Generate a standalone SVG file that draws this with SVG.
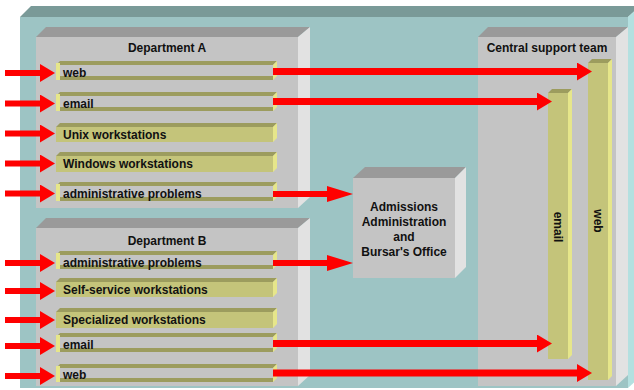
<svg xmlns="http://www.w3.org/2000/svg" width="634" height="390" viewBox="0 0 634 390">
<style>
.t{font-family:"Liberation Sans",Arial,sans-serif;font-weight:bold;font-size:12px;fill:#111}
.c{text-anchor:middle}
.bf{fill:#c4c47a}
.bt{fill:#9c9c5e}
.bs{fill:#e6e68a}
.gf{fill:#c4c4c4}
.bxf{fill:#c4c4c4}
.bxt{fill:#9a9a9a}
.bxs{fill:#e2e2e2}
.ar{stroke:#ff0000;fill:none}
</style>
<defs>
<marker id="ah" markerUnits="userSpaceOnUse" markerWidth="15" markerHeight="18" refX="0" refY="9" orient="auto" viewBox="0 0 15 18"><path d="M0,0 L15,9 L0,18 z" fill="#ff0000"/></marker>
<marker id="ahl" markerUnits="userSpaceOnUse" markerWidth="26" markerHeight="18" refX="0" refY="9" orient="auto" viewBox="0 0 26 18"><path d="M0,1 L26,9 L0,17 z" fill="#ff0000"/></marker>
</defs>
<rect width="634" height="390" fill="#ffffff"/>
<g id="frame">
<polygon points="20,17 31,6 640,6 628,17" fill="#7a9a98"/>
<polygon points="628,17 640,6 640,377 628,388" fill="#b4e0e0"/>
<rect x="20" y="17" width="608" height="371" fill="#9dc4c4"/>
</g>
<g id="deptA">
<polygon points="36,37 46,27 310,27 298,37" class="bxt"/>
<polygon points="298,37 310,27 310,197 298,208" class="bxs"/>
<rect x="36" y="37" width="262" height="171" class="bxf"/>
<text x="167" y="52" class="t c">Department A</text>
</g>
<g id="deptB">
<polygon points="36,228 46,218 310,218 298,228" class="bxt"/>
<polygon points="298,228 310,218 310,375 298,386" class="bxs"/>
<rect x="36" y="228" width="262" height="158" class="bxf"/>
<text x="167" y="245" class="t c">Department B</text>
</g>
<g id="central">
<polygon points="478,37 488,27 628,27 616,37" class="bxt"/>
<polygon points="616,37 628,27 628,375 616,386" class="bxs"/>
<rect x="478" y="37" width="138" height="349" class="bxf"/>
<text x="547" y="52" class="t c">Central support team</text>
</g>
<g id="admissions">
<polygon points="353,178 365,167 466,167 455,178" class="bxt"/>
<polygon points="455,178 466,167 466,267 455,278" class="bxs"/>
<rect x="353" y="178" width="102" height="100" class="bxf"/>
<text x="404" y="211" class="t c">Admissions</text>
<text x="404" y="226" class="t c">Administration</text>
<text x="404" y="241" class="t c">and</text>
<text x="404" y="256" class="t c">Bursar's Office</text>
</g>
<g id="a-web">
<polygon points="56,65 60,61 277,61 273,65" class="bt"/>
<polygon points="273,65 277,61 277,76 273,80" class="bs"/>
<rect x="56" y="65" width="217" height="15" class="gf"/>
<rect x="56" y="63" width="4" height="17" class="bs"/>
<rect x="60" y="76" width="213" height="4" class="bt"/>
<text x="63" y="77" class="t">web</text>
</g>
<g id="a-email">
<polygon points="56,96 60,92 277,92 273,96" class="bt"/>
<polygon points="273,96 277,92 277,107 273,111" class="bs"/>
<rect x="56" y="96" width="217" height="15" class="gf"/>
<rect x="56" y="94" width="4" height="17" class="bs"/>
<rect x="60" y="107" width="213" height="4" class="bt"/>
<text x="63" y="108" class="t">email</text>
</g>
<g id="a-unix">
<polygon points="56,127 60,123 277,123 273,127" class="bt"/>
<polygon points="273,127 277,123 277,138 273,142" class="bs"/>
<rect x="56" y="127" width="217" height="15" class="bf"/>
<text x="63" y="138.5" class="t">Unix workstations</text>
</g>
<g id="a-windows">
<polygon points="56,156 60,152 277,152 273,156" class="bt"/>
<polygon points="273,156 277,152 277,168 273,172" class="bs"/>
<rect x="56" y="156" width="217" height="16" class="bf"/>
<text x="63" y="168" class="t">Windows workstations</text>
</g>
<g id="a-admin">
<polygon points="56,186 60,182 277,182 273,186" class="bt"/>
<polygon points="273,186 277,182 277,197 273,201" class="bs"/>
<rect x="56" y="186" width="217" height="15" class="gf"/>
<rect x="56" y="184" width="4" height="17" class="bs"/>
<rect x="60" y="197" width="213" height="4" class="bt"/>
<text x="63" y="198" class="t">administrative problems</text>
</g>
<g id="b-admin">
<polygon points="56,255 60,251 277,251 273,255" class="bt"/>
<polygon points="273,255 277,251 277,265 273,269" class="bs"/>
<rect x="56" y="255" width="217" height="14" class="gf"/>
<rect x="56" y="253" width="4" height="16" class="bs"/>
<rect x="60" y="265" width="213" height="4" class="bt"/>
<text x="63" y="266.5" class="t">administrative problems</text>
</g>
<g id="b-self">
<polygon points="56,282 60,278 277,278 273,282" class="bt"/>
<polygon points="273,282 277,278 277,293 273,297" class="bs"/>
<rect x="56" y="282" width="217" height="15" class="bf"/>
<text x="63" y="293.5" class="t">Self-service workstations</text>
</g>
<g id="b-specialized">
<polygon points="56,312 60,308 277,308 273,312" class="bt"/>
<polygon points="273,312 277,308 277,324 273,328" class="bs"/>
<rect x="56" y="312" width="217" height="16" class="bf"/>
<text x="63" y="323.5" class="t">Specialized workstations</text>
</g>
<g id="b-email">
<polygon points="56,337 60,333 277,333 273,337" class="bt"/>
<polygon points="273,337 277,333 277,348 273,352" class="bs"/>
<rect x="56" y="337" width="217" height="15" class="gf"/>
<rect x="56" y="335" width="4" height="17" class="bs"/>
<rect x="60" y="348" width="213" height="4" class="bt"/>
<text x="63" y="349" class="t">email</text>
</g>
<g id="b-web">
<polygon points="56,368 60,364 277,364 273,368" class="bt"/>
<polygon points="273,368 277,364 277,378 273,382" class="bs"/>
<rect x="56" y="368" width="217" height="14" class="gf"/>
<rect x="56" y="366" width="4" height="16" class="bs"/>
<rect x="60" y="378" width="213" height="4" class="bt"/>
<text x="63" y="379" class="t">web</text>
</g>
<g id="c-email">
<polygon points="548,93 552,89 572,89 568,93" class="bt"/>
<polygon points="568,93 572,89 572,355 568,359" class="bs"/>
<rect x="548" y="93" width="20" height="266" class="bf"/>
<text transform="translate(554,227) rotate(90)" class="t c">email</text>
</g>
<g id="c-web">
<polygon points="588,63 592,59 612,59 608,63" class="bt"/>
<polygon points="608,63 612,59 612,376 608,380" class="bs"/>
<rect x="588" y="63" width="20" height="317" class="bf"/>
<text transform="translate(594,221) rotate(90)" class="t c">web</text>
</g>
<g id="connectors">
<g class="ar" stroke-width="6" marker-end="url(#ah)">
<line x1="5" y1="73" x2="40" y2="73"/>
<line x1="5" y1="103.5" x2="40" y2="103.5"/>
<line x1="5" y1="133.5" x2="40" y2="133.5"/>
<line x1="5" y1="163.5" x2="40" y2="163.5"/>
<line x1="5" y1="193.5" x2="40" y2="193.5"/>
<line x1="5" y1="263" x2="40" y2="263"/>
<line x1="5" y1="291" x2="40" y2="291"/>
<line x1="5" y1="320" x2="40" y2="320"/>
<line x1="5" y1="346" x2="40" y2="346"/>
<line x1="5" y1="376" x2="40" y2="376"/>
</g>
<g class="ar" stroke-width="7" marker-end="url(#ah)">
<line x1="273" y1="71.5" x2="577" y2="71.5"/>
<line x1="273" y1="101.5" x2="537" y2="101.5"/>
<line x1="273" y1="343.5" x2="537" y2="343.5"/>
<line x1="273" y1="373" x2="577" y2="373"/>
</g>
<g class="ar" stroke-width="6" marker-end="url(#ahl)">
<line x1="273" y1="194" x2="327" y2="194"/>
<line x1="273" y1="263" x2="327" y2="263"/>
</g>
</g>
</svg>
